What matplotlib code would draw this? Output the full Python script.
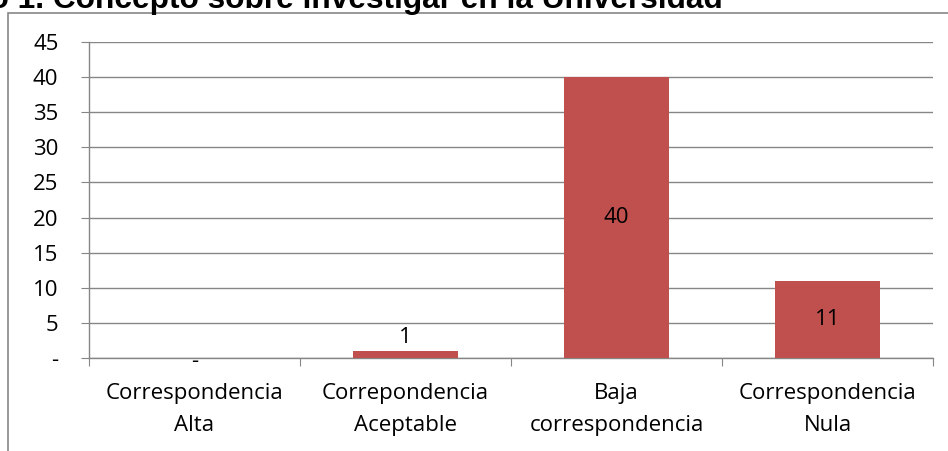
import matplotlib.pyplot as plt
from matplotlib.patches import Rectangle

categorias = ['Correspondencia\nAlta', 'Correpondencia\nAceptable',
              'Baja\ncorrespondencia', 'Correspondencia\nNula']
valores = [0, 1, 40, 11]
etiquetas = ['-', '1', '40', '11']
yticks = [0, 5, 10, 15, 20, 25, 30, 35, 40, 45]
yticklabels = ['-', '5', '10', '15', '20', '25', '30', '35', '40', '45']
titulo = 'Gráfico 1. Concepto sobre investigar en la Universidad'

W, H = 948, 451
GRIS = '#868686'
ROJO = '#C0504D'
FUENTE = 'Open Sans'
TAM = 16

fig = plt.figure(figsize=(W / 100, H / 100), dpi=100)

# marco del grafico (cortado arriba y a la derecha)
fig.patches.append(Rectangle((8 / W, -0.1), 2, (H - 12.5) / H + 0.1,
                             transform=fig.transFigure, fill=False,
                             edgecolor=GRIS, lw=1.2))

# titulo cortado por el borde superior
fig.text(723 / W, 1 - 8 / H, titulo, fontsize=22.8, fontweight='bold',
         family='Liberation Sans', va='baseline', ha='right')

ax = fig.add_axes([89 / W, (H - 358) / H, (933 - 89) / W, (358 - 42) / H])
x = range(len(categorias))
ax.bar(x, valores, width=0.5, color=ROJO, zorder=3)

for xi, v, lab in zip(x, valores, etiquetas):
    if v >= 5:
        ax.text(xi, v / 2, lab, ha='center', va='center', fontsize=TAM, family=FUENTE)
    elif v > 0:
        ax.text(xi, v + 0.4, lab, ha='center', va='bottom', fontsize=TAM, family=FUENTE)
    else:
        ax.text(xi, -0.5, lab, ha='center', va='center', fontsize=TAM,
                family=FUENTE, clip_on=False)

ax.set_xlim(-0.5, len(categorias) - 0.5)
ax.set_ylim(0, 45)
ax.set_yticks(yticks)
ax.set_yticklabels(yticklabels, family=FUENTE, fontsize=TAM)
ax.set_xticks([i - 0.5 for i in range(len(categorias) + 1)])
ax.set_xticklabels([])
ax.set_xticks(list(x), minor=True)
ax.set_xticklabels(categorias, minor=True, family=FUENTE, fontsize=TAM,
                   linespacing=1.7)
ax.tick_params(axis='x', which='minor', length=0, pad=18)
ax.tick_params(axis='x', which='major', length=6, color=GRIS, direction='out')
ax.tick_params(axis='y', length=6, color=GRIS, direction='out', pad=16)

ax.yaxis.grid(True, color=GRIS, lw=1, zorder=0)
ax.set_axisbelow(True)
for s in ['top', 'right']:
    ax.spines[s].set_visible(False)
for s in ['left', 'bottom']:
    ax.spines[s].set_color(GRIS)
    ax.spines[s].set_linewidth(1)

fig.savefig('out.png', dpi=100)
